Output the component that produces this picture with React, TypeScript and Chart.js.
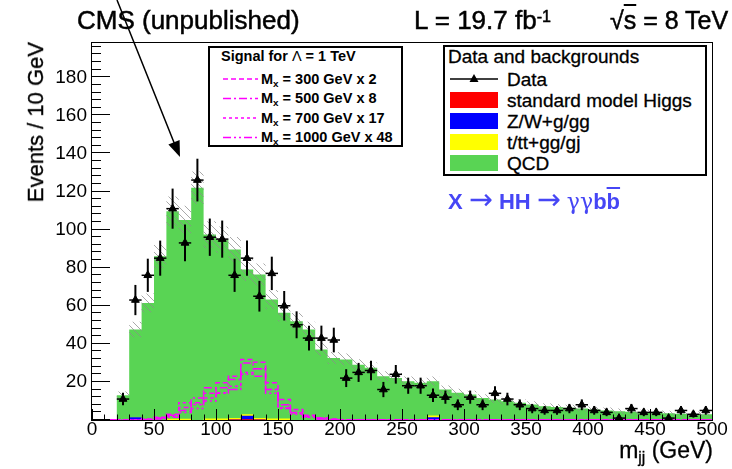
import React, { useEffect, useRef } from "react";
import { Chart, registerables } from "chart.js";

Chart.register(...registerables);

const FONT = '"Liberation Sans", Arial, Helvetica, sans-serif';

// ---- data (10 GeV bins, low edges) ----
const binLow = [0, 10, 20, 30, 40, 50, 60, 70, 80, 90, 100, 110, 120, 130, 140, 150, 160, 170, 180, 190, 200, 210, 220, 230, 240, 250, 260, 270, 280, 290, 300, 310, 320, 330, 340, 350, 360, 370, 380, 390, 400, 410, 420, 430, 440, 450, 460, 470, 480, 490];
const histMax = 500;
const binWidth = 10;

const dataCounts = [null, null, 11, 63, 76, 85, 111, 93, 126, 96, 95, 76, 85, 65, 77, 60, 50, 43, 43, 42, 22, 25, 26, 16, 24, 18, 18, 13, 12, 8, 12, 8, 14, 11, 8, 6, 5, 5, 6, 8, 5, 4, 1, 6, 4, 4, 1, 5, 3, 5];

const qcd = [0, 0, 13, 46, 61.5, 86, 109, 104.4, 122, 96.6, 93.9, 88.5, 76, 75.4, 62.5, 55.5, 51.9, 47.5, 37, 32.6, 31.8, 29, 27.4, 23, 22.1, 20.4, 19.5, 18.1, 16, 14.3, 13.4, 11.6, 10.8, 9.9, 9, 8.1, 7.2, 6.8, 6.4, 6, 5.5, 5, 4.6, 4.3, 4, 3.8, 3.5, 3.3, 3.1, 3];
const ttbar = [0, 0, 0, 0, 0, 0, 0.6, 0.6, 0, 0.8, 0.8, 0.8, 0.8, 0.8, 0.8, 0.8, 0, 0, 0, 0, 0, 0, 0, 0, 0, 0, 0, 0.8, 0, 0, 0, 0, 0, 0, 0, 0, 0, 0, 0, 0, 0, 0, 0, 0, 0, 0, 0, 0, 0, 0];
const zwjets = [0, 0, 0, 1.5, 0, 0, 0, 0, 0, 0, 0, 0, 1.8, 0, 0, 0, 0, 0, 0, 0, 0, 0, 0, 0, 0, 0, 0, 1.5, 0, 0, 0, 0, 0, 0, 0, 0, 0, 0, 0, 0, 0, 0, 0, 0, 0, 0, 0, 0, 0, 0];
const higgs = [0, 0, 0, 0, 0, 0, 0, 0, 0, 0, 0, 0.2, 0.4, 0.2, 0, 0, 0, 0, 0, 0, 0, 0, 0, 0, 0, 0, 0, 0, 0, 0, 0, 0, 0, 0, 0, 0, 0, 0, 0, 0, 0, 0, 0, 0, 0, 0, 0, 0, 0, 0];
const bkgRelUnc = 0.06;
const bkgAbsUnc = 1.2;

const sig300x2 = [0, 0, 0, 0, 0.5, 1.5, 3, 6.5, 9, 14, 19.5, 23, 31.8, 30.3, 19.5, 10.8, 5.5, 2.5, 1, 0.5, 0, 0, 0, 0, 0, 0, 0, 0, 0, 0, 0, 0, 0, 0, 0, 0, 0, 0, 0, 0, 0, 0, 0, 0, 0, 0, 0, 0, 0, 0];
const sig500x8 = [0, 0, 0, 0, 0.3, 1, 2.5, 5, 11.6, 16.9, 16.9, 21.3, 30, 26.9, 16, 8, 4, 2, 1, 0.3, 0, 0, 0, 0, 0, 0, 0, 0, 0, 0, 0, 0, 0, 0, 0, 0, 0, 0, 0, 0, 0, 0, 0, 0, 0, 0, 0, 0, 0, 0];
const sig700x17 = [0, 0, 0, 0, 0, 1, 2, 9, 8.1, 11.6, 14.3, 17.7, 25, 26.9, 16, 6.4, 3.7, 1.5, 0.5, 0, 0, 0, 0, 0, 0, 0, 0, 0, 0, 0, 0, 0, 0, 0, 0, 0, 0, 0, 0, 0, 0, 0, 0, 0, 0, 0, 0, 0, 0, 0];
const sig1000x48 = [0, 0, 0, 0, 0, 0.5, 1.5, 4, 6, 10, 14, 16, 24, 23, 14, 6, 3, 1.5, 0.5, 0, 0, 0, 0, 0, 0, 0, 0, 0, 0, 0, 0, 0, 0, 0, 0, 0, 0, 0, 0, 0, 0, 0, 0, 0, 0, 0, 0, 0, 0, 0];

const yMin = 0;
const yMax = 198;
const yMajorStep = 20;
const yMinorStep = 4;
const xMajorStep = 50;
const xMinorStep = 10;

const GREEN = "#59d454";
const MAGENTA = "#ff00ff";

function steps(vals: number[]) {
  const pts = binLow.map((x, i) => ({ x, y: vals[i] }));
  pts.push({ x: histMax, y: vals[vals.length - 1] });
  return pts;
}
function sumArr(...arrs: number[][]) {
  return binLow.map((_, i) => arrs.reduce((s, a) => s + a[i], 0));
}

const frameBack = {
  id: "frameBack",
  beforeDatasetsDraw(chart: any) {
    const { ctx, chartArea: a } = chart;
    ctx.save();
    ctx.strokeStyle = "#000";
    ctx.lineWidth = 1;
    ctx.strokeRect(Math.round(a.left) - 0.5, Math.round(a.top) - 0.5, Math.round(a.right - a.left) + 1, Math.round(a.bottom - a.top) + 1);
    ctx.restore();
  },
};

const errorBars = {
  id: "errorBars",
  afterDatasetsDraw(chart: any) {
    const idx = chart.data.datasets.findIndex((d: any) => d.label === "Data");
    if (idx < 0) return;
    const { ctx, scales } = chart;
    const xs = scales.x, ys = scales.y;
    ctx.save();
    ctx.strokeStyle = "#000";
    chart.data.datasets[idx].data.forEach((p: any) => {
      const n = p.y;
      const e = Math.sqrt(n);
      const px = xs.getPixelForValue(p.x);
      const py = ys.getPixelForValue(n);
      ctx.lineWidth = 2;
      ctx.beginPath();
      ctx.moveTo(px, ys.getPixelForValue(Math.max(n - e, 0)));
      ctx.lineTo(px, ys.getPixelForValue(n + e));
      ctx.stroke();
      ctx.lineWidth = 1.5;
      ctx.beginPath();
      ctx.moveTo(xs.getPixelForValue(p.x - binWidth / 2), py);
      ctx.lineTo(xs.getPixelForValue(p.x + binWidth / 2), py);
      ctx.stroke();
    });
    ctx.restore();
  },
};

const axisTicks = {
  id: "axisTicks",
  afterDatasetsDraw(chart: any) {
    const { ctx, chartArea: a, scales } = chart;
    const xs = scales.x, ys = scales.y;
    ctx.save();
    ctx.strokeStyle = "#000";
    ctx.lineWidth = 1;
    ctx.beginPath();
    for (let v = yMin; v <= yMax; v += yMinorStep) {
      const py = Math.round(ys.getPixelForValue(v)) - 0.5;
      const len = v % yMajorStep === 0 ? 18 : 9;
      ctx.moveTo(a.left, py);
      ctx.lineTo(a.left + len, py);
    }
    for (let v = 0; v <= histMax; v += xMinorStep) {
      const px = Math.round(xs.getPixelForValue(v)) + 0.5;
      const len = v % xMajorStep === 0 ? 11 : 5.5;
      ctx.moveTo(px, a.bottom);
      ctx.lineTo(px, a.bottom - len);
    }
    ctx.stroke();
    ctx.restore();
  },
};

type TP = { x: number; y: number; size: number; bold?: boolean; color?: string; align?: "left" | "right"; sx?: number; stroke?: number; children: any };
function T({ x, y, size, bold, color, align = "left", sx = 1, stroke = 0.3, children }: TP) {
  const style: any = {
    position: "absolute",
    top: y - 0.49 * size,
    fontSize: size,
    lineHeight: `${size}px`,
    fontWeight: bold ? "bold" : "normal",
    color: color || "#000",
    whiteSpace: "nowrap",
    fontFamily: FONT,
    transform: `scaleX(${sx})`,
    transformOrigin: align === "left" ? "left center" : "right center",
    WebkitTextStroke: `${stroke}px ${color || "#000"}`,
  };
  if (align === "left") style.left = x;
  else style.right = 732 - x;
  return <div style={style}>{children}</div>;
}

const sup = { position: "relative" as const, top: "-0.45em", fontSize: "0.62em" };
const sub = { position: "relative" as const, top: "0.3em", fontSize: "0.68em" };
const arrowStyle = { fontWeight: "normal" as const, fontFamily: '"DejaVu Sans", sans-serif', fontSize: "1.3em", lineHeight: "10px", WebkitTextStroke: "0px" };

export default function App() {
  const ref = useRef<HTMLCanvasElement>(null);

  useEffect(() => {
    const canvas = ref.current!;
    const ctx = canvas.getContext("2d")!;
    const pc = document.createElement("canvas");
    pc.width = 7;
    pc.height = 7;
    const g = pc.getContext("2d")!;
    g.strokeStyle = "rgba(140,140,140,0.75)";
    g.lineWidth = 1;
    g.beginPath();
    g.moveTo(0, 0);
    g.lineTo(7, 7);
    g.moveTo(-1, 6);
    g.lineTo(1, 8);
    g.moveTo(6, -1);
    g.lineTo(8, 1);
    g.stroke();
    const hatch = ctx.createPattern(pc, "repeat")!;

    const total = sumArr(higgs, zwjets, ttbar, qcd);
    const bandUp = total.map((v) => (v > 0 ? v * (1 + bkgRelUnc) + bkgAbsUnc : 0));
    const bandDn = total.map((v) => (v > 0 ? Math.max(v * (1 - bkgRelUnc) - bkgAbsUnc, 0) : 0));
    const cumTT = sumArr(higgs, zwjets, ttbar);
    const cumZW = sumArr(higgs, zwjets);

    const stepDs = (label: string, vals: number[], extra: any) => ({
      label,
      data: steps(vals),
      stepped: true,
      pointRadius: 0,
      borderWidth: 0,
      borderColor: "rgba(0,0,0,0)",
      ...extra,
    });

    const dataPts = binLow
      .map((x, i) => ({ x: x + binWidth / 2, y: dataCounts[i] }))
      .filter((p) => p.y !== null);

    const chart = new Chart(canvas, {
      type: "line",
      data: {
        datasets: [
          {
            label: "Data",
            data: dataPts as any,
            showLine: false,
            pointStyle: "triangle",
            pointRadius: 4.5,
            pointBackgroundColor: "#000",
            pointBorderColor: "#000",
            borderColor: "#000",
            order: 0,
          },
          stepDs("sig300", sig300x2, { fill: false, borderColor: MAGENTA, borderWidth: 1.5, borderDash: [5, 3], order: 1 }),
          stepDs("sig500", sig500x8, { fill: false, borderColor: MAGENTA, borderWidth: 1.5, borderDash: [8, 3, 2, 3], order: 2 }),
          stepDs("sig700", sig700x17, { fill: false, borderColor: MAGENTA, borderWidth: 1.5, borderDash: [3, 3], order: 3 }),
          stepDs("sig1000", sig1000x48, { fill: false, borderColor: MAGENTA, borderWidth: 1.5, borderDash: [8, 3, 2, 3, 2, 3], order: 4 }),
          stepDs("bandUp", bandUp, { fill: "+1", backgroundColor: hatch, order: 5 }),
          stepDs("bandDn", bandDn, { fill: false, order: 6 }),
          stepDs("higgs", higgs, { fill: "origin", backgroundColor: "#ff0000", order: 7 }),
          stepDs("zw", cumZW, { fill: "origin", backgroundColor: "#0000ff", order: 8 }),
          stepDs("tt", cumTT, { fill: "origin", backgroundColor: "#ffff00", order: 9 }),
          stepDs("qcd", total, { fill: "origin", backgroundColor: GREEN, order: 10 }),
        ],
      },
      options: {
        animation: false,
        responsive: false,
        maintainAspectRatio: false,
        layout: { padding: { left: 0, right: 20, top: 43, bottom: 0 } },
        plugins: { legend: { display: false }, tooltip: { enabled: false } },
        scales: {
          x: {
            type: "linear",
            min: 0,
            max: histMax,
            grid: { display: false, drawTicks: false },
            border: { display: false },
            ticks: {
              stepSize: xMajorStep,
              autoSkip: false,
              maxRotation: 0,
              padding: -2,
              color: "#000",
              font: { family: FONT, size: 19 },
            },
            afterFit: (s: any) => {
              s.height = 49;
            },
          },
          y: {
            type: "linear",
            min: yMin,
            max: yMax,
            grid: { display: false, drawTicks: false },
            border: { display: false },
            ticks: {
              stepSize: yMajorStep,
              padding: 5,
              color: "#000",
              font: { family: FONT, size: 19 },
              callback: (v: any) => (v !== 0 && v % yMajorStep === 0 ? String(v) : ""),
            },
            afterFit: (s: any) => {
              s.width = 92;
            },
          },
        },
      },
      plugins: [frameBack, errorBars, axisTicks],
    });
    return () => chart.destroy();
  }, []);

  const dashes = ["5,3", "8,3,2,3", "3,3", "8,3,2,3,2,3"];
  const sigRows = [
    { m: "300", k: "2", y: 79 },
    { m: "500", k: "8", y: 98.5 },
    { m: "700", k: "17", y: 118 },
    { m: "1000", k: "48", y: 137.5 },
  ];
  const bkgRows = [
    { label: "standard model Higgs", color: "#ff0000", y: 100 },
    { label: "Z/W+g/gg", color: "#0000ff", y: 121 },
    { label: "t/tt+gg/gj", color: "#ffff00", y: 142 },
    { label: "QCD", color: GREEN, y: 163 },
  ];

  return (
    <div style={{ position: "fixed", left: 0, top: 0, width: 732, height: 469, background: "#fff", overflow: "hidden", fontFamily: FONT }}>
      <canvas ref={ref} width={732} height={469} style={{ position: "absolute", left: 0, top: 0, width: 732, height: 469 }} />

      {/* header texts */}
      <T x={77} y={20} size={26} stroke={0.5}>CMS (unpublished)</T>
      <T x={414} y={20} size={26} stroke={0.5}>
        L = 19.7 fb<span style={sup}>-1</span>
      </T>
      <T x={610} y={20} size={25} stroke={0.5}>
        √<span style={{ textDecoration: "overline" }}>s</span> = 8 TeV
      </T>

      {/* y axis title */}
      <div
        style={{
          position: "absolute",
          left: 25,
          top: 42,
          fontSize: 22,
          lineHeight: "22px",
          whiteSpace: "nowrap",
          transformOrigin: "left top",
          transform: "rotate(-90deg) translateX(-100%)",
          fontFamily: FONT,
          WebkitTextStroke: "0.3px #000",
        }}
      >
        Events / 10 GeV
      </div>

      {/* x axis title */}
      <T x={713} y={450} size={23} align="right">
        m<span style={{ ...sub, top: "0.35em" }}>jj</span> (GeV)
      </T>

      {/* signal legend */}
      <div style={{ position: "absolute", left: 208, top: 46, width: 195, height: 101, boxSizing: "border-box", border: "2px solid #000", background: "#fff" }} />
      <T x={221} y={56} size={14.5} bold stroke={0}>
        Signal for <span style={{ fontWeight: "normal" }}>Λ</span> = 1 TeV
      </T>
      <svg width={732} height={469} style={{ position: "absolute", left: 0, top: 0, pointerEvents: "none" }}>
        {sigRows.map((r, i) => (
          <line key={i} x1={223} x2={258} y1={r.y} y2={r.y} stroke={MAGENTA} strokeWidth={1.5} strokeDasharray={dashes[i]} />
        ))}
      </svg>
      {sigRows.map((r, i) => (
        <T key={i} x={261} y={r.y} size={14.5} bold stroke={0}>
          M<span style={sub}>x</span> = {r.m} GeV x {r.k}
        </T>
      ))}

      {/* background legend */}
      <div style={{ position: "absolute", left: 443, top: 45, width: 264, height: 131, boxSizing: "border-box", border: "2px solid #000", background: "#fff" }} />
      <T x={448} y={56} size={19}>Data and backgrounds</T>
      <svg width={732} height={469} style={{ position: "absolute", left: 0, top: 0, pointerEvents: "none" }}>
        <line x1={450} x2={498} y1={79} y2={79} stroke="#000" strokeWidth={1.5} />
        <polygon points="474,74 478.5,82 469.5,82" fill="#000" />
        {bkgRows.map((r, i) => (
          <rect key={i} x={450} y={r.y - 8} width={48} height={16} fill={r.color} />
        ))}
      </svg>
      <T x={507} y={79} size={19}>Data</T>
      {bkgRows.map((r, i) => (
        <T key={i} x={507} y={r.y} size={19}>
          {r.label}
        </T>
      ))}

      {/* process label */}
      <T x={448} y={202} size={22} bold color="#4646f5" stroke={0}>
        X <span style={arrowStyle}>→</span> HH <span style={arrowStyle}>→</span>{" "}
        <span style={{ fontWeight: "normal", fontFamily: '"DejaVu Serif", serif' }}>γγ</span>b<span style={{ textDecoration: "overline" }}>b</span>
      </T>

      {/* arrow */}
      <svg width={732} height={469} style={{ position: "absolute", left: 0, top: 0, pointerEvents: "none" }}>
        <line x1={117} y1={0} x2={175} y2={145} stroke="#000" strokeWidth={1.5} />
        <polygon points="180,157 168.4,144.4 179.6,140" fill="#000" />
      </svg>
    </div>
  );
}
